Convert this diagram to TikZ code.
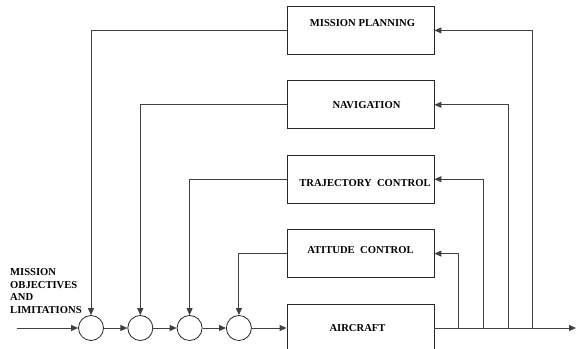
\documentclass[tikz,border=0pt]{standalone}
\usepackage{fontspec}
\setmainfont{Liberation Serif}
\usetikzlibrary{positioning}
\usetikzlibrary{arrows.meta}
\usetikzlibrary{calc}

\begin{document}
\begin{tikzpicture}[x=1pt,y=-1pt,
    block/.style={draw=black!85, line width=0.9pt, minimum width=147pt, minimum height=48pt, inner sep=0pt},
    sumnode/.style={draw=black!85, circle, line width=0.8pt, minimum size=25pt, inner sep=0pt},
    lbl/.style={font=\fontsize{10.6}{12.6}\selectfont\bfseries, inner sep=0pt},
    flow/.style={draw=black!75, line width=1pt, -{Triangle[length=7pt,width=6pt]}}]
        % Fix the frame of the picture
        \useasboundingbox (0,0) rectangle (577,348);
        \clip (0,0) rectangle (577,348);

        % Define the blocks
        \node[block] (air) at (360.5,328) {};
        \node[block, above=25.5pt of air] (att) {};
        \node[block, above=25.5pt of att] (traj) {};
        \node[block, above=25.5pt of traj] (nav) {};
        \node[block, above=25.5pt of nav] (plan) {};

        \node[lbl] (plantext) at ($(plan.center)+(2,-7)$) {MISSION PLANNING};
        \node[lbl] (navtext) at ($(nav.center)+(6,0)$) {NAVIGATION};
        \node[lbl] (trajtext) at ($(traj.center)+(4.5,4)$) {TRAJECTORY\ \ CONTROL};
        \node[lbl] (atttext) at ($(att.center)+(0,-3.5)$) {ATITUDE\ \ CONTROL};
        \node[lbl] (airtext) at ($(air.center)+(-3,0)$) {AIRCRAFT};

        % Define the summing points
        \node[sumnode] (s1) at (91,328) {};
        \node[sumnode, right=23.5pt of s1] (s2) {};
        \node[sumnode, right=23.5pt of s2] (s3) {};
        \node[sumnode, right=23.5pt of s3] (s4) {};

        \node[lbl, align=left, anchor=north west] (goal) at (10,268.5) {MISSION\\OBJECTIVES\\AND\\LIMITATIONS};

        % Draw the forward path
        \coordinate (in) at (17,328);
        \coordinate (out) at (576,328);
        \draw[flow] (in) -- (s1);
        \foreach \a/\b in {s1/s2, s2/s3, s3/s4}
        \draw[flow] (\a) -- (\b);
        \draw[flow] (s4) -- (air);
        \draw[flow] (air) -- (out);

        % Draw the feedback lines
        \foreach \tap/\blk/\dx in {t1/att/24, t2/traj/49, t3/nav/74, t4/plan/98}
        {
        \coordinate (\tap) at ($(air.east)+(\dx,0)$);
        \draw[flow] (\tap) |- (\blk.east);
        }

        \foreach \blk/\s in {plan/s1, nav/s2, traj/s3, att/s4}
        \draw[flow] (\blk.west) -| (\s.north);
      \end{tikzpicture}
\end{document}
